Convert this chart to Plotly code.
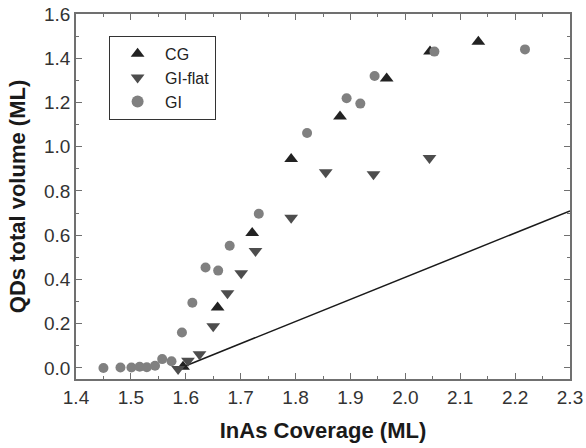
import plotly.graph_objects as go

# CG (up triangles)
cg_x = [1.595, 1.658, 1.721, 1.792, 1.881, 1.966, 2.045, 2.133]
cg_y = [0.005, 0.273, 0.610, 0.944, 1.137, 1.308, 1.430, 1.475]

# GI-flat (down triangles)
gif_x = [1.586, 1.604, 1.625, 1.650, 1.676, 1.701, 1.727, 1.792, 1.855, 1.942, 2.044]
gif_y = [-0.005, 0.032, 0.062, 0.188, 0.338, 0.428, 0.529, 0.679, 0.885, 0.876, 0.949]

# GI (circles)
gi_x = [1.450, 1.481, 1.501, 1.516, 1.529, 1.544, 1.557, 1.574, 1.593, 1.612, 1.636,
        1.659, 1.680, 1.733, 1.821, 1.893, 1.918, 1.944, 2.053, 2.218]
gi_y = [0.000, 0.002, 0.002, 0.005, 0.003, 0.010, 0.040, 0.030, 0.160, 0.295, 0.454,
        0.440, 0.552, 0.697, 1.062, 1.219, 1.195, 1.320, 1.430, 1.440]

# reference line
line_x = [1.59, 2.30]
line_y = [0.0, 0.71]

FONT = "Arial, Liberation Sans, sans-serif"

fig = go.Figure()
fig.add_trace(go.Scatter(x=line_x, y=line_y, mode="lines",
                         line=dict(color="#1a1a1a", width=1.5), showlegend=False))
fig.add_trace(go.Scatter(x=cg_x, y=cg_y, mode="markers", name="CG",
                         marker=dict(symbol="triangle-up", size=12, color="#222222")))
fig.add_trace(go.Scatter(x=gif_x, y=gif_y, mode="markers", name="GI-flat",
                         marker=dict(symbol="triangle-down", size=12, color="#4d4d4d")))
fig.add_trace(go.Scatter(x=gi_x, y=gi_y, mode="markers", name="GI",
                         marker=dict(symbol="circle", size=10, color="#808080")))

axis_common = dict(
    showline=True, linecolor="#707070", linewidth=1.5, mirror="ticks",
    ticks="inside", ticklen=6, tickwidth=1.2, tickcolor="#707070",
    showgrid=False, zeroline=False, automargin=False,
    tickfont=dict(family=FONT, size=19, color="#333333"),
)

fig.update_xaxes(range=[1.4, 2.3], dtick=0.1, tick0=1.4, tickformat=".1f",
                 minor=dict(ticks="inside", ticklen=3, dtick=0.05, tickcolor="#707070"),
                 title=dict(text="<b>InAs Coverage (ML)</b>", font=dict(family=FONT, size=22, color="#1a1a1a"),
                            standoff=16),
                 **axis_common)
fig.update_yaxes(range=[-0.05, 1.6], dtick=0.2, tick0=0, tickformat=".1f",
                 minor=dict(ticks="inside", ticklen=3, dtick=0.1, tickcolor="#707070"),
                 title=dict(text="<b>QDs total volume (ML)</b>", font=dict(family=FONT, size=22, color="#1a1a1a"),
                            standoff=12),
                 **axis_common)

fig.update_layout(
    width=586, height=448,
    margin=dict(l=76, r=16, t=14, b=69),
    plot_bgcolor="white", paper_bgcolor="white",
    legend=dict(x=0.067, y=0.94, xanchor="left", yanchor="top",
                bordercolor="#333333", borderwidth=1, bgcolor="white",
                font=dict(family=FONT, size=16, color="#222222"),
                tracegroupgap=0, itemsizing="constant", itemwidth=45),
)

fig.write_html("out.html", config={"displayModeBar": False},
               post_script="document.body.style.margin='0';document.body.style.overflow='hidden';")
